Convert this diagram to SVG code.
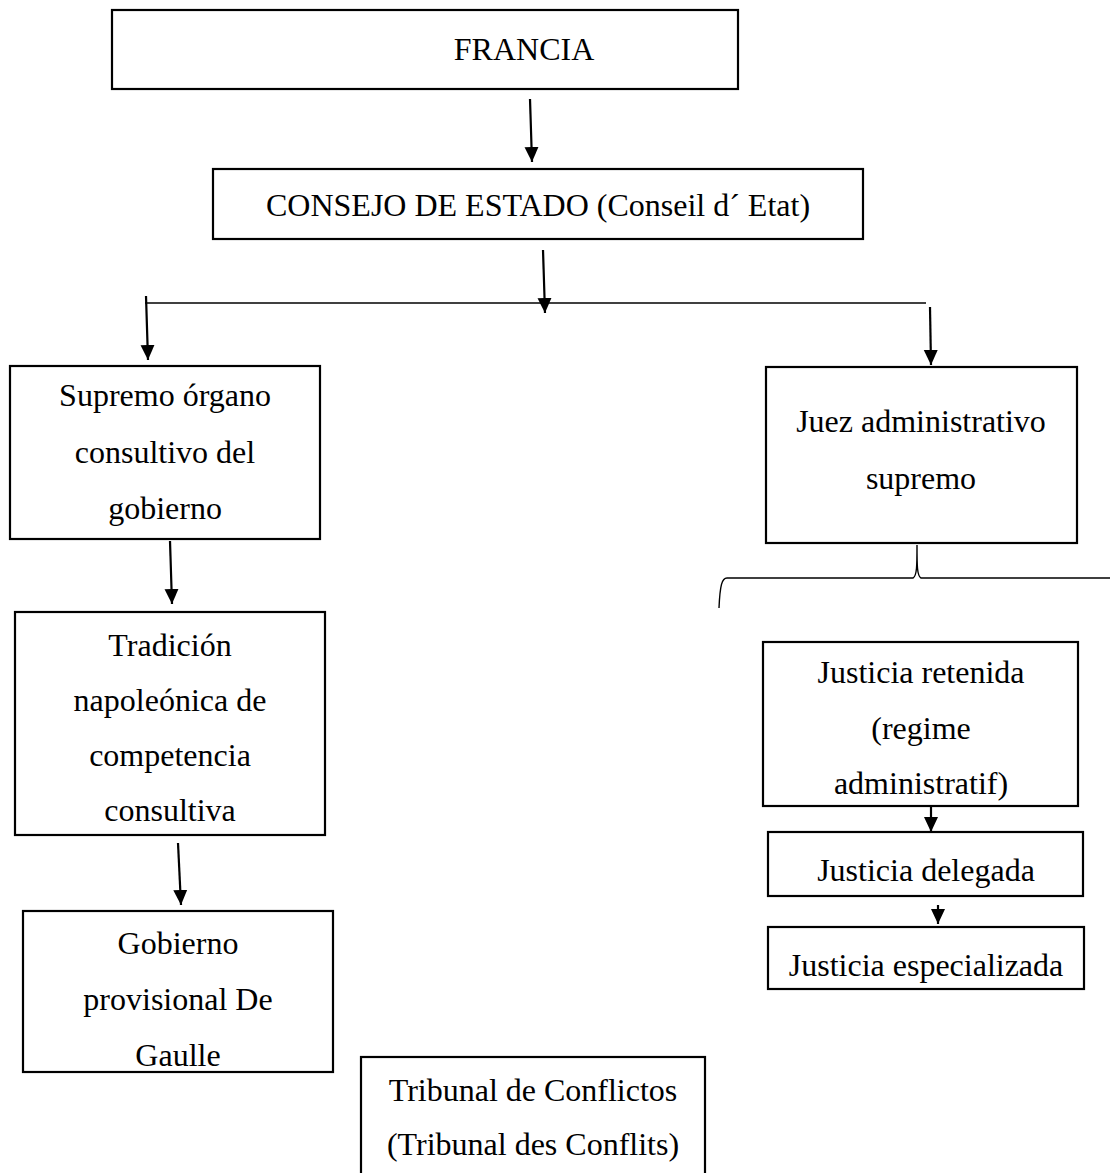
<svg xmlns="http://www.w3.org/2000/svg" width="1110" height="1173" viewBox="0 0 1110 1173">
<style>
.box{fill:#fff;stroke:#000;stroke-width:2.2}
.t{font-family:"Liberation Serif","Times New Roman",serif;font-size:32px;fill:#000;text-anchor:middle}
.c{fill:none;stroke:#000;stroke-width:2.2}
.thin{fill:none;stroke:#000;stroke-width:1.4}
</style>
<defs>
<marker id="ah" markerUnits="userSpaceOnUse" markerWidth="16" markerHeight="16" viewBox="0 0 16 16" refX="15" refY="8" orient="auto">
<path d="M0,1 L15,8 L0,15 Z" fill="#000"/>
</marker>
</defs>
<rect width="1110" height="1173" fill="#fff"/>
<g id="connectors">
<line class="c" x1="530" y1="99" x2="532" y2="162" marker-end="url(#ah)"/>
<line class="c" x1="543" y1="250" x2="545" y2="313" marker-end="url(#ah)"/>
<line class="thin" x1="145" y1="303" x2="926" y2="303"/>
<line class="c" x1="146" y1="296" x2="148" y2="360" marker-end="url(#ah)"/>
<line class="c" x1="930" y1="307" x2="931" y2="365" marker-end="url(#ah)"/>
<line class="c" x1="170" y1="541" x2="172" y2="604" marker-end="url(#ah)"/>
<line class="c" x1="178" y1="843" x2="181" y2="905" marker-end="url(#ah)"/>
<line class="c" x1="931" y1="807" x2="931" y2="832" marker-end="url(#ah)"/>
<line class="c" x1="938" y1="905" x2="938" y2="924" marker-end="url(#ah)"/>
<path class="thin" d="M917,545 C917,565 917,576 913,578 L727,578 C722,578 720,585 719,608 M917,545 C917,565 917,576 921,578 L1110,578"/>
</g>
<g id="francia"><rect class="box" x="112" y="10" width="626" height="79"/><text class="t" x="524" y="60">FRANCIA</text></g>
<g id="consejo"><rect class="box" x="213" y="169" width="650" height="70"/><text class="t" x="538" y="216">CONSEJO DE ESTADO (Conseil d´ Etat)</text></g>
<g id="supremo"><rect class="box" x="10" y="366" width="310" height="173"/><text class="t" x="165"><tspan x="165" y="406">Supremo órgano</tspan><tspan x="165" y="463">consultivo del</tspan><tspan x="165" y="519">gobierno</tspan></text></g>
<g id="juez"><rect class="box" x="766" y="367" width="311" height="176"/><text class="t"><tspan x="921" y="432">Juez administrativo</tspan><tspan x="921" y="489">supremo</tspan></text></g>
<g id="tradicion"><rect class="box" x="15" y="612" width="310" height="223"/><text class="t"><tspan x="170" y="656">Tradición</tspan><tspan x="170" y="711">napoleónica de</tspan><tspan x="170" y="766">competencia</tspan><tspan x="170" y="821">consultiva</tspan></text></g>
<g id="gobierno"><rect class="box" x="23" y="911" width="310" height="161"/><text class="t"><tspan x="178" y="954">Gobierno</tspan><tspan x="178" y="1010">provisional De</tspan><tspan x="178" y="1066">Gaulle</tspan></text></g>
<g id="tribunal"><rect class="box" x="361" y="1057" width="344" height="130"/><text class="t"><tspan x="533" y="1101">Tribunal de Conflictos</tspan><tspan x="533" y="1155">(Tribunal des Conflits)</tspan></text></g>
<g id="retenida"><rect class="box" x="763" y="642" width="315" height="164"/><text class="t"><tspan x="921" y="683">Justicia retenida</tspan><tspan x="921" y="739">(regime</tspan><tspan x="921" y="794">administratif)</tspan></text></g>
<g id="delegada"><rect class="box" x="768" y="832" width="315" height="64"/><text class="t" x="926" y="881">Justicia delegada</text></g>
<g id="especializada"><rect class="box" x="768" y="927" width="316" height="62"/><text class="t" x="926" y="976">Justicia especializada</text></g>
</svg>
